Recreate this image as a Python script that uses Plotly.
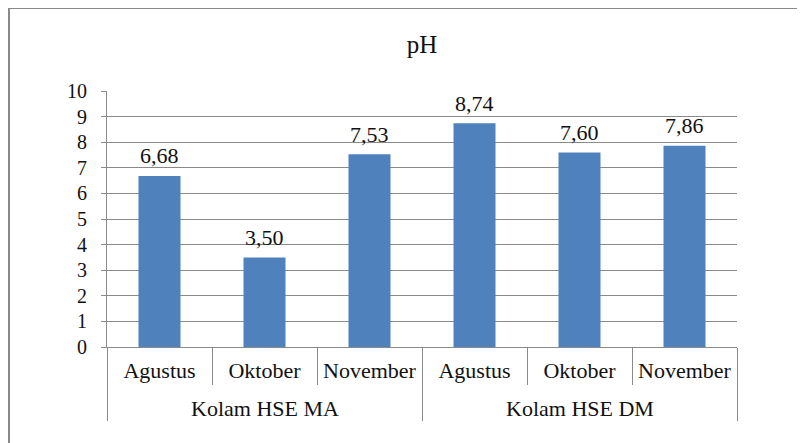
import plotly.graph_objects as go

groups = ["Kolam HSE MA", "Kolam HSE DM"]
months = ["Agustus", "Oktober", "November", "Agustus", "Oktober", "November"]
ph_values = [6.68, 3.50, 7.53, 8.74, 7.60, 7.86]
y_ticks = list(range(0, 11))

n = len(months)
per_group = n // len(groups)
pos = list(range(n))
labels = [f"{v:.2f}".replace(".", ",") for v in ph_values]
boundaries = [i - 0.5 for i in range(n + 1)]
group_edges = [g * per_group - 0.5 for g in range(len(groups) + 1)]
group_centers = [g * per_group + (per_group - 1) / 2 for g in range(len(groups))]

FONT = "Liberation Serif"
GRID = "#8a8a8a"
TXT = "#111111"
XR = [-0.5, n - 0.5]
LBL = 22

# page body has an 8px offset; plot area in figure coords
L, T, W, H = 99, 83, 630, 256

fig = go.Figure(go.Bar(
    x=pos, y=ph_values,
    marker=dict(color="#4F81BD", line=dict(width=0)),
    cliponaxis=False, showlegend=False,
))

fig.update_layout(
    width=805, height=443,
    margin=dict(l=L, r=805 - L - W, t=T, b=443 - T - H, autoexpand=False),
    paper_bgcolor="white", plot_bgcolor="white",
    bargap=0.6, showlegend=False,
    title=dict(text="pH", x=0.5, xref="paper", xanchor="center",
               y=1 - 36 / 443, yanchor="middle",
               font=dict(family=FONT, size=25, color=TXT)),
    font=dict(family=FONT, size=LBL, color=TXT),
    xaxis=dict(range=XR, tickmode="array", tickvals=pos, ticktext=months,
               ticks="", showgrid=False, zeroline=False, showline=True,
               linecolor=GRID, linewidth=1, automargin=False,
               ticklabelstandoff=4,
               tickfont=dict(family=FONT, size=LBL, color=TXT)),
    xaxis2=dict(range=XR, overlaying="x", side="bottom", tickmode="array",
                tickvals=boundaries, ticks="outside", ticklen=37,
                tickcolor=GRID, tickwidth=1, showticklabels=False,
                showgrid=False, zeroline=False, showline=False, automargin=False),
    xaxis3=dict(range=XR, overlaying="x", side="bottom", tickmode="array",
                tickvals=group_edges, ticks="outside", ticklen=73,
                tickcolor=GRID, tickwidth=1, showticklabels=False,
                showgrid=False, zeroline=False, showline=False, automargin=False),
    yaxis=dict(range=[0, 10], tickvals=y_ticks, showgrid=True, gridcolor=GRID,
               gridwidth=1, showline=True, linecolor=GRID, linewidth=1,
               ticks="outside", ticklen=5, tickcolor=GRID, zeroline=False,
               automargin=False, ticklabelstandoff=10,
               tickfont=dict(family=FONT, size=20, color=TXT)),
)
fig.add_trace(go.Scatter(x=[], y=[], xaxis="x2", showlegend=False))
fig.add_trace(go.Scatter(x=[], y=[], xaxis="x3", showlegend=False))

# value labels above the bars
for xp, v, lab in zip(pos, ph_values, labels):
    fig.add_annotation(text=lab, x=xp, y=v, xref="x", yref="y", yshift=20,
                       yanchor="middle", showarrow=False,
                       font=dict(family=FONT, size=LBL, color=TXT))

# group labels
for g, c in zip(groups, group_centers):
    fig.add_annotation(text=g, x=c, xref="x", y=-(408 - 347) / H, yref="paper",
                       yanchor="middle", showarrow=False,
                       font=dict(family=FONT, size=LBL, color=TXT))

fig.add_shape(type="rect", xref="paper", yref="paper",
              x0=(1 - L) / W, x1=(830 - L) / W,
              y0=(T + H - 480) / H, y1=(T + H - 0) / H,
              line=dict(color=GRID, width=2), fillcolor="rgba(0,0,0,0)", layer="below")

fig.write_html("out.html")
